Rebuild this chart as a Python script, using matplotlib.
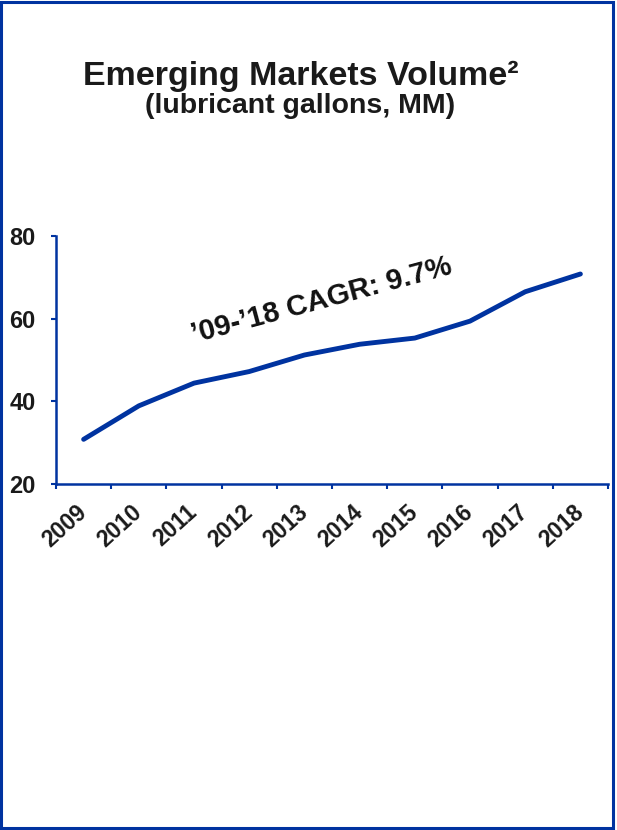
import numpy as np
import matplotlib.pyplot as plt
from matplotlib.patches import Rectangle

plt.rcParams['font.family'] = ['Liberation Sans', 'DejaVu Sans']

# Emerging markets lubricant volume, MM gallons
years = ['2009', '2010', '2011', '2012', '2013', '2014', '2015', '2016', '2017', '2018']
volume = [30.8, 38.9, 44.4, 47.2, 51.2, 53.8, 55.3, 59.4, 66.5, 70.8]
y_ticks = [20, 40, 60, 80]

blue = '#0033a0'

fig = plt.figure(figsize=(6.17, 8.30), dpi=100)
ax = fig.add_axes([0.0908, 0.4169, 0.8946, 0.2988])

x = np.arange(len(years))
ax.plot(x, volume, color=blue, linewidth=3.5, solid_capstyle='round', solid_joinstyle='round')

ax.set_xlim(-0.5, len(years) - 0.5)
ax.set_ylim(20, 80)
ax.set_yticks(y_ticks)
ax.set_yticklabels([str(v) for v in y_ticks], fontsize=17, fontweight='bold', color='#1a1a1a')

# year labels sit between the tick marks
ax.set_xticks(x)
ax.set_xticklabels(years, rotation=42, ha='right', va='center', rotation_mode='anchor',
                   fontsize=16.5, fontweight='bold', color='#1a1a1a')
ax.set_xticks(np.arange(len(years) + 1) - 0.5, minor=True)
ax.tick_params(axis='x', which='major', length=0, pad=18)
ax.tick_params(axis='x', which='minor', length=3.8, width=1.5, color=blue)
ax.tick_params(axis='y', length=3.8, width=1.5, color=blue, pad=11)

for side in ['top', 'right']:
    ax.spines[side].set_visible(False)
for side in ['left', 'bottom']:
    ax.spines[side].set_color(blue)
    ax.spines[side].set_linewidth(1.8)

ax.text(4.32, 64.3, "\u201909-\u201918 CAGR: 9.7%", rotation=15, ha='center', va='center',
        fontsize=21, fontweight='bold', color='#111111')

fig.text(0.487, 0.908, 'Emerging Markets Volume\u00b2', ha='center', va='center',
         fontsize=24.5, fontweight='bold', color='#1a1a1a')
fig.text(0.487, 0.872, '(lubricant gallons, MM)', ha='center', va='center',
         fontsize=20.5, fontweight='bold', color='#1a1a1a')

# blue frame round the panel
fig.patches.append(Rectangle((0.002, 0.002), 0.992, 0.996, transform=fig.transFigure,
                             fill=False, edgecolor=blue, linewidth=2.2))

fig.savefig('out.png', dpi=100)
